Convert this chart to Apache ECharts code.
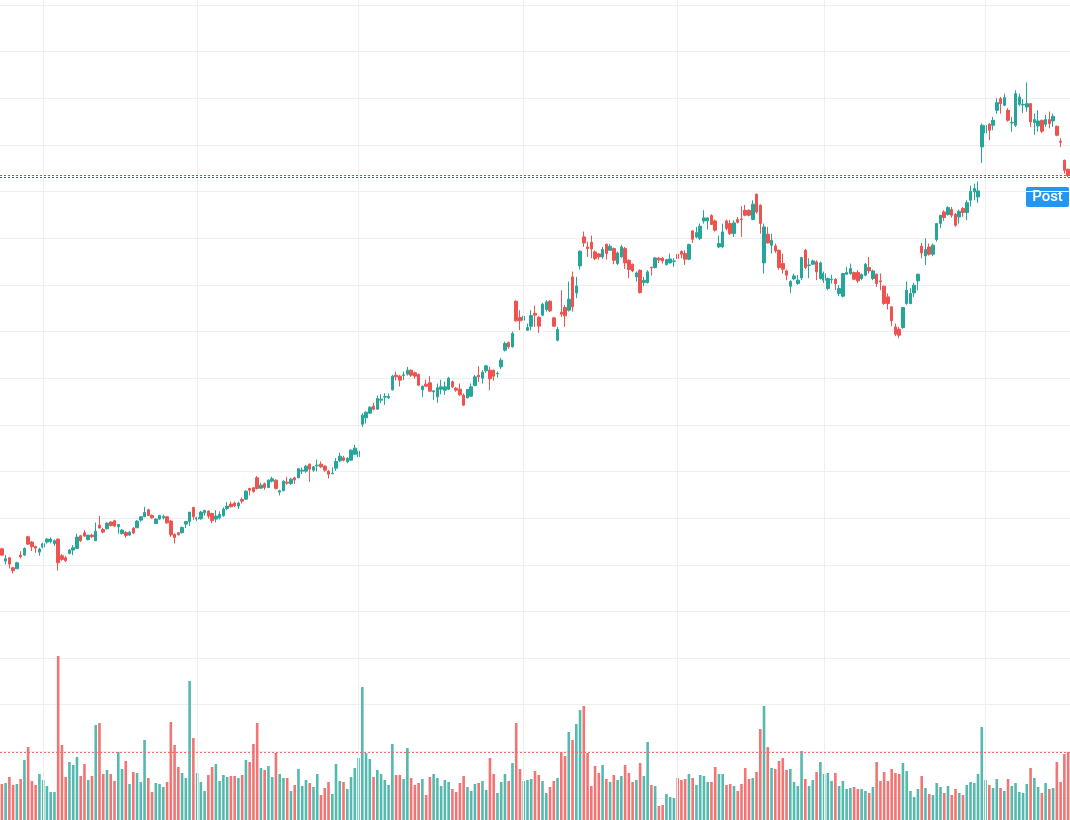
<!DOCTYPE html>
<html lang="en">
<head>
<meta charset="UTF-8">
<title>Candles</title>
<script src="https://cdn.jsdelivr.net/npm/echarts@6/dist/echarts.min.js"></script>
<style>
  html, body { margin: 0; padding: 0; background: #fff; }
  #chart { width: 1070px; height: 820px; }
</style>
</head>
<body>
<div id="chart"></div>
<script>
  // open, close, low, high
  var ohlc = [
    [74.8,72.9,72.6,75.1],[71.1,71.8,70.1,72.9],[72.1,70.2,68.9,72.4],[69.1,68.2,67.4,69.4],[68.8,70.6,68.7,70.9],
    [72.9,72.4,71.9,74.1],[72.9,74.9,72.7,75.2],[78.4,76.2,75.9,78.7],[76.8,75.4,74.1,77.1],[75.5,75.0,73.6,75.7],
    [73.8,74.7,72.7,75.1],[75.3,76.3,74.9,76.6],[76.8,77.7,76.3,78.0],[77.0,77.7,76.4,78.2],[76.4,77.2,75.7,77.6],
    [77.7,70.6,68.2,77.9],[72.7,71.6,71.2,73.2],[72.1,71.2,70.8,72.6],[73.4,74.4,73.1,74.7],[74.4,75.1,72.9,75.9],
    [74.9,78.3,74.7,79.3],[78.7,77.2,76.9,79.0],[79.6,78.6,78.4,80.4],[77.5,78.9,77.4,79.0],[78.9,78.4,78.0,79.3],
    [77.2,80.1,77.2,82.7],[81.9,81.0,81.0,84.7],[80.6,79.8,79.4,81.1],[80.8,82.5,80.6,82.7],[82.8,81.8,81.5,83.1],
    [83.2,81.6,81.3,83.5],[81.4,82.1,79.3,82.2],[79.4,80.4,79.1,80.7],[79.7,78.8,78.1,80.1],[78.9,79.8,78.7,80.1],
    [81.0,79.5,79.2,81.3],[81.1,83.1,81.0,83.4],[83.4,84.4,82.9,84.6],[84.4,85.7,84.3,87.4],[86.5,84.8,84.6,86.8],
    [84.8,84.1,83.8,85.1],[82.4,83.7,82.2,84.0],[83.7,84.8,83.5,85.0],[84.1,84.5,83.6,85.0],[84.4,82.6,82.3,84.7],
    [83.1,79.0,78.4,83.4],[79.1,78.2,76.4,79.4],[79.6,79.0,78.8,79.8],[79.6,81.2,79.4,81.5],[82.2,83.0,81.0,83.1],
    [83.0,85.8,81.6,85.8],[87.2,84.4,83.4,87.4],[83.7,84.1,83.1,84.4],[83.8,85.8,83.5,86.2],[85.6,86.3,84.8,86.5],
    [86.1,84.6,83.8,86.3],[85.4,83.2,82.5,85.6],[83.7,84.6,82.7,86.4],[84.1,85.1,83.6,86.0],[84.7,86.7,84.4,87.2],
    [86.9,87.6,86.4,88.8],[88.2,87.4,87.2,89.0],[88.5,87.7,87.3,89.0],[87.6,88.5,86.7,88.9],[89.6,89.1,88.4,90.2],
    [89.7,92.1,89.6,92.4],[92.9,92.4,90.8,93.1],[93.1,92.0,91.6,93.4],[96.1,92.9,92.6,96.6],[93.0,93.9,92.8,94.6],
    [94.3,93.2,92.5,94.7],[93.2,95.4,93.0,95.6],[95.1,95.8,94.7,96.4],[95.4,92.9,92.6,95.6],[91.8,92.2,90.8,92.5],
    [92.2,95.1,92.1,95.3],[94.8,94.5,94.0,96.4],[94.4,95.7,94.0,96.1],[96.1,95.5,94.3,96.4],[96.1,98.8,96.0,99.0],
    [98.1,98.4,97.2,99.2],[98.1,99.6,97.6,100.0],[100.2,98.7,94.9,100.4],[98.4,99.4,97.9,99.6],[99.7,99.9,98.0,101.6],
    [100.2,99.4,99.0,101.0],[99.6,98.4,97.9,99.9],[98.1,97.2,95.9,98.4],[97.3,97.5,97.2,99.3],[99.0,101.0,98.2,102.0],
    [101.2,102.6,100.8,103.6],[102.1,101.4,101.0,102.7],[100.9,101.9,100.5,102.3],[101.4,104.4,101.2,104.7],[103.2,105.0,102.9,106.0],
    [102.4,104.1,99.9,104.4],[112.2,114.9,111.4,115.4],[114.1,115.8,112.4,116.0],[115.5,117.3,115.3,117.5],[117.6,116.7,116.4,118.6],
    [116.7,119.9,116.5,120.8],[119.4,119.7,118.5,121.2],[120.3,120.5,118.0,121.5],[120.1,120.6,119.8,121.4],[122.5,126.6,122.3,127.0],
    [126.9,126.4,125.3,128.0],[126.6,125.4,123.5,127.0],[126.8,127.0,125.4,128.0],[127.2,128.4,126.8,129.4],[128.4,126.9,126.4,128.6],
    [127.6,126.6,125.8,128.0],[127.1,123.9,123.6,127.4],[122.5,123.6,120.4,123.8],[124.2,123.6,123.3,125.6],[124.6,122.1,121.8,126.6],
    [121.9,122.2,119.4,122.4],[120.4,123.1,118.6,124.4],[122.7,123.4,121.2,125.5],[122.4,123.4,121.0,125.0],[122.7,126.0,122.4,126.4],
    [124.9,123.4,123.0,125.3],[123.0,122.4,121.9,123.4],[122.7,121.0,120.6,124.4],[120.9,117.9,117.6,121.4],[120.1,122.6,119.9,122.8],
    [120.6,123.4,120.4,124.4],[123.8,126.4,123.6,127.0],[126.9,126.4,124.9,129.6],[126.0,127.8,124.4,128.4],[128.2,129.7,127.6,130.0],
    [128.4,125.8,122.4,129.4],[128.4,126.6,125.2,128.6],[127.3,127.5,126.2,128.0],[129.4,131.4,128.8,132.0],[134.4,136.4,134.0,137.0],
    [136.7,135.4,134.8,137.0],[135.4,139.4,135.2,140.0],[149.1,143.2,143.0,149.4],[144.2,143.2,140.4,146.4],[143.4,144.6,142.4,145.6],
    [140.4,141.2,140.2,142.4],[141.6,144.8,140.4,146.4],[145.5,144.9,141.4,147.8],[144.3,141.6,139.6,144.6],[144.9,148.2,144.6,148.6],
    [146.6,148.9,146.0,149.4],[149.1,146.2,145.8,149.4],[144.1,141.6,141.4,144.4],[137.4,140.6,137.0,141.4],[145.8,145.2,144.4,152.4],
    [147.2,144.7,141.4,148.0],[146.4,149.7,146.0,155.0],[156.4,147.4,146.0,158.0],[151.6,153.7,150.0,156.4],[159.7,164.1,158.6,164.4],
    [168.4,166.6,165.4,170.0],[165.4,164.9,162.4,167.0],[166.8,164.8,162.0,168.8],[163.9,161.9,161.4,164.4],[163.3,162.4,161.6,163.6],
    [162.4,164.6,161.8,165.4],[166.2,163.4,161.6,166.4],[164.4,165.6,164.2,166.2],[164.9,161.4,160.2,165.2],[160.4,163.6,160.0,164.0],
    [162.4,165.4,162.2,166.0],[164.9,160.6,158.8,165.4],[161.4,158.6,156.0,161.6],[160.2,158.2,157.8,160.4],[156.4,157.6,155.0,158.0],
    [158.4,151.7,151.4,158.6],[154.7,155.4,153.6,156.4],[154.7,157.9,154.4,158.4],[159.3,159.1,156.8,159.4],[159.2,162.1,158.9,162.4],
    [162.0,161.5,160.6,162.4],[162.0,161.2,160.4,162.4],[160.1,161.6,159.8,161.8],[160.6,161.8,160.4,163.4],[161.0,161.2,159.4,162.0],
    [163.2,161.9,159.4,165.4],[164.0,163.2,162.0,164.4],[163.4,161.7,160.0,164.4],[161.7,166.1,161.4,166.4],[170.2,167.7,166.6,170.4],
    [168.4,169.7,168.0,171.4],[167.9,171.6,167.4,172.4],[173.2,174.1,172.4,176.4],[173.2,174.1,170.6,174.4],[174.8,172.1,172.0,175.2],
    [173.2,170.4,170.0,173.6],[165.4,166.4,165.0,168.8],[165.4,169.9,165.0,172.4],[173.2,170.9,170.4,173.6],[172.4,169.4,169.0,173.4],
    [169.4,172.6,168.4,173.4],[173.6,172.8,172.4,174.4],[173.8,173.6,168.4,177.6],[176.4,174.9,174.6,178.0],[176.4,174.9,174.6,176.6],
    [173.6,178.2,173.4,179.4],[181.2,175.9,175.4,181.4],[177.9,172.4,169.4,178.2],[160.6,171.4,157.4,172.4],[169.2,166.6,166.4,171.4],
    [165.9,167.4,163.4,169.4],[165.7,164.2,163.6,166.4],[164.4,159.2,158.6,164.6],[160.4,158.7,157.4,163.4],[158.2,156.9,155.4,158.6],
    [153.6,155.0,151.6,155.4],[155.8,156.7,155.4,157.4],[154.4,155.4,154.0,157.0],[156.1,162.2,155.4,162.4],[164.4,159.2,158.8,164.8],
    [159.8,160.0,156.0,162.0],[160.2,161.2,160.0,161.6],[160.9,157.9,155.4,161.4],[155.9,160.6,155.6,161.0],[155.4,157.4,154.6,158.0],
    [152.9,155.9,152.4,156.2],[155.5,155.7,154.4,157.0],[155.7,154.4,152.4,156.0],[151.4,152.9,150.6,154.0],[150.6,157.4,150.2,157.6],
    [157.2,157.7,157.0,159.4],[157.4,158.9,157.0,160.4],[157.7,155.7,155.4,158.0],[157.7,155.2,154.6,158.4],[155.9,157.1,155.4,157.4],
    [156.9,160.2,156.6,160.6],[159.2,158.2,157.4,162.4],[155.9,158.2,155.4,158.6],[157.2,154.4,153.4,157.4],[155.2,154.9,152.4,157.4],
    [153.6,148.4,148.0,153.8],[150.4,148.4,146.6,151.4],[147.4,143.2,141.6,147.6],[141.4,139.2,138.6,142.4],[140.7,138.9,138.0,141.4],
    [141.2,147.2,140.8,147.4],[148.4,152.4,148.0,155.0],[148.4,151.4,148.2,153.0],[151.6,153.9,150.4,154.6],[155.2,157.2,152.4,157.4],
    [165.6,163.6,162.0,166.6],[162.7,164.6,160.0,168.0],[165.4,163.2,162.8,166.4],[163.2,165.9,162.6,166.4],[167.6,172.4,167.0,172.6],
    [172.4,174.9,171.0,175.0],[175.9,174.2,173.2,176.4],[175.1,177.2,174.8,177.6],[176.6,174.9,174.2,177.4],[175.2,171.9,171.4,175.6],
    [174.4,176.1,172.4,176.6],[176.9,175.7,174.4,177.4],[175.7,178.7,173.4,179.4],[179.4,182.1,177.6,183.8],[181.9,182.9,179.4,184.4],
    [180.4,182.2,178.6,185.0],[195.4,201.9,190.6,202.4],[199.6,201.9,199.0,202.4],[202.2,200.4,197.4,202.6],[201.9,203.4,200.4,204.4],
    [206.4,208.7,205.4,210.0],[209.9,208.4,205.4,210.4],[207.9,210.2,207.6,211.4],[206.4,203.4,203.0,207.0],[202.6,202.8,200.0,204.4],
    [201.9,211.4,201.4,212.4],[208.2,210.4,207.6,211.4],[208.0,208.2,205.6,209.8],[207.4,208.4,206.0,214.8],[208.4,202.9,201.4,208.6],
    [202.7,203.6,199.0,205.4],[201.7,203.2,200.0,206.4],[203.4,200.1,199.6,203.6],[202.2,203.6,201.4,205.0],[203.6,202.4,201.0,206.0],
    [203.2,204.6,201.4,205.4],[201.6,198.9,198.6,201.8],[197.1,196.8,195.4,198.0],[191.4,188.4,187.4,191.6],[188.7,186.8,186.4,188.9]
  ];

  // volume, millions
  var volumes = [
    3.6,3.7,4.3,3.5,3.6,4.1,6.0,7.3,3.9,3.5, 4.6,4.0,3.4,2.8,2.8,16.4,7.5,4.3,5.8,5.5,
    6.3,4.4,5.6,4.0,4.4,9.5,9.7,4.6,5.0,4.6, 3.9,6.8,5.1,5.9,3.6,4.8,4.7,3.8,8.0,4.2,
    2.8,3.7,3.6,3.3,3.8,9.8,7.5,5.3,4.7,4.2, 13.9,8.2,4.7,3.8,2.9,4.5,5.3,5.6,3.9,4.5,
    4.3,4.4,4.4,4.2,4.5,6.0,5.8,7.6,9.7,5.2, 5.0,5.4,4.3,6.7,4.6,4.2,4.2,2.9,3.5,5.1,
    3.4,4.0,3.7,3.3,4.6,2.5,3.2,3.8,2.6,5.6, 3.9,3.8,3.1,4.3,5.2,6.2,13.3,6.7,6.1,4.3,
    5.0,4.6,4.0,3.5,7.6,4.5,4.5,4.1,7.2,4.2, 3.5,3.7,4.1,2.5,4.3,4.6,4.2,3.4,4.0,3.8,
    3.1,2.8,3.7,4.4,3.3,2.9,3.6,3.7,3.9,3.0, 6.2,4.6,2.7,3.8,4.6,3.9,5.7,9.7,5.1,3.9,
    4.0,4.1,4.9,4.5,3.9,2.7,3.3,3.9,4.2,6.8, 6.4,8.8,8.0,9.6,11.0,11.4,6.7,3.4,5.4,4.7,
    5.5,4.1,3.8,4.5,4.0,4.4,5.5,4.7,3.8,4.0, 5.7,4.4,7.8,3.5,3.4,1.4,1.5,2.6,2.3,2.2,
    4.2,4.0,4.1,4.6,4.2,3.5,4.5,4.4,3.8,3.8, 5.3,4.6,4.6,3.5,3.6,3.4,2.9,3.6,5.2,4.1,
    4.2,4.8,9.1,11.4,7.3,5.2,5.1,5.9,6.2,5.0, 5.1,3.8,3.4,6.9,4.1,3.4,4.0,4.8,5.8,4.6,
    4.7,3.9,4.7,3.4,3.9,3.1,3.2,3.3,3.1,3.1, 2.9,2.7,3.3,5.8,3.9,4.8,3.9,5.1,4.7,4.6,
    5.7,4.9,2.9,2.3,3.1,4.4,3.2,2.6,2.5,3.7, 3.3,2.7,3.4,2.5,3.1,2.7,2.5,3.5,3.8,3.7,
    4.6,9.3,4.0,3.5,3.2,4.1,3.2,2.9,4.1,3.4, 3.7,2.8,2.7,3.6,5.2,4.2,3.3,2.7,3.7,3.1,
    3.2,5.8,3.8,6.6,6.8
  ];

  var postPrice = 186.2;
  // bars where the vertical grid lines fall
  var sessionBreaks = [11, 52, 95, 139, 180, 219, 262];

  var categories = [];
  for (var i = 0; i < ohlc.length; i++) {
    categories.push('#' + (i + 1));
  }

  var upColor = '#26a69a';
  var downColor = '#ef5350';
  var gridColor = '#efefef';

  var volData = volumes.map(function (v, i) {
    var up = ohlc[i][1] >= ohlc[i][0];
    return { value: v, itemStyle: { color: up ? '#55b9ae' : '#f27474' } };
  });
  var lastClose = ohlc[ohlc.length - 1][1];
  var lastVolume = volumes[volumes.length - 1];

  var chart = echarts.init(document.getElementById('chart'));

  var hiddenCat = {
    type: 'category',
    data: categories,
    boundaryGap: true,
    axisLine: { show: false },
    axisTick: { show: false },
    axisLabel: { show: false },
    splitLine: { show: false }
  };

  chart.setOption({
    animation: false,
    backgroundColor: '#ffffff',
    grid: [
      { left: 0, right: 0, top: 5, bottom: 22 },   // price
      { left: 0, right: 0, top: 640, bottom: 0 },  // volume
      { left: 0, right: 0, top: 0, bottom: 0 }     // vertical grid lines
    ],
    xAxis: [
      Object.assign({ gridIndex: 0 }, hiddenCat),
      Object.assign({ gridIndex: 1 }, hiddenCat),
      { type: 'value', gridIndex: 2, min: -0.5, max: ohlc.length - 0.5, show: false }
    ],
    yAxis: [
      {
        type: 'value', gridIndex: 0, min: 0, max: 238, interval: 14,
        axisLine: { show: false }, axisTick: { show: false }, axisLabel: { show: false },
        splitLine: { show: true, lineStyle: { color: gridColor, width: 1 } }
      },
      { type: 'value', gridIndex: 1, min: 0, max: 18, show: false, splitLine: { show: false } },
      { type: 'value', gridIndex: 2, min: 0, max: 1, show: false, splitLine: { show: false } }
    ],
    graphic: [{
      type: 'group',
      right: 1,
      top: 187,
      children: [
        { type: 'rect', shape: { x: 0, y: 0, width: 43, height: 20, r: 2 }, style: { fill: '#2196f3' } },
        { type: 'text', style: { x: 21.5, y: 10.5, text: 'Post', fill: '#ffffff', font: '500 15px Roboto', align: 'center', verticalAlign: 'middle' } }
      ]
    }],
    series: [
      {
        name: 'breaks',
        type: 'line',
        xAxisIndex: 2,
        yAxisIndex: 2,
        data: [],
        z: 0,
        silent: true,
        markLine: {
          silent: true,
          symbol: ['none', 'none'],
          label: { show: false },
          lineStyle: { color: gridColor, width: 1, type: 'solid' },
          data: sessionBreaks.map(function (k) { return { xAxis: k }; })
        }
      },
      {
        name: 'Volume',
        type: 'bar',
        xAxisIndex: 1,
        yAxisIndex: 1,
        data: volData,
        barWidth: 2.6,
        z: 1,
        markLine: {
          silent: true,
          symbol: ['none', 'none'],
          label: { show: false },
          lineStyle: { color: '#f26b6b', width: 1, type: [2, 2] },
          data: [{ yAxis: lastVolume }]
        }
      },
      {
        name: 'Price',
        type: 'candlestick',
        xAxisIndex: 0,
        yAxisIndex: 0,
        data: ohlc,
        barWidth: 3,
        z: 3,
        itemStyle: {
          color: upColor,
          color0: downColor,
          borderColor: upColor,
          borderColor0: downColor,
          borderWidth: 1
        },
        markLine: {
          silent: true,
          symbol: ['none', 'none'],
          label: { show: false },
          data: [
            { yAxis: lastClose, lineStyle: { color: '#f23645', width: 1, type: [2, 2] } },
            { yAxis: postPrice, lineStyle: { color: '#2962ff', width: 1, type: [2, 2] } }
          ]
        }
      }
    ]
  });
</script>
</body>
</html>
